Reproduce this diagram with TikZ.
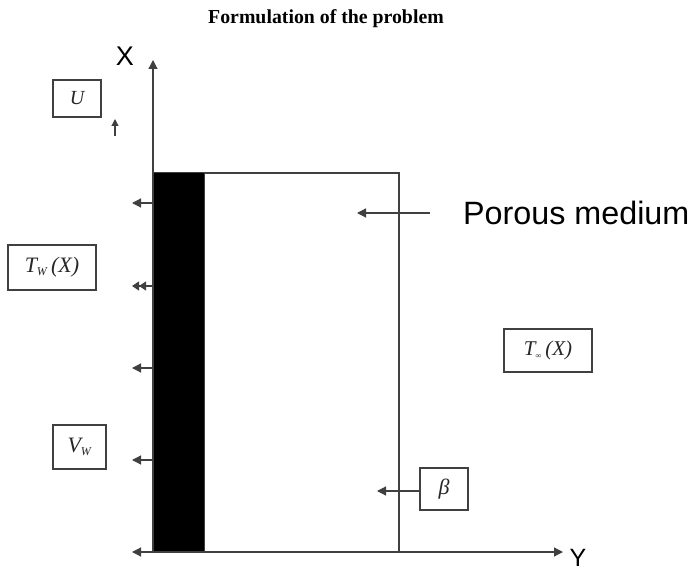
\documentclass[tikz,border=0pt]{standalone}
\usepackage{fontspec}
\setmainfont{Liberation Serif}
\newfontfamily\arialfont{Liberation Sans}
\usetikzlibrary{arrows.meta}
\definecolor{ln}{HTML}{404040}
\tikzset{
  tip/.style={-{Triangle[length=9pt,width=9pt]}},
  box/.style={draw=ln, line width=1.2pt, inner sep=0pt, fill=white},
  ax/.style={draw=ln, line width=1.2pt},
  lbl/.style={font=\fontsize{20}{22}\selectfont\itshape, text=black!85},
}
\begin{document}
\begin{tikzpicture}[x=1pt,y=-1pt]
\useasboundingbox (0,0) rectangle (691,577);
% title
\node[font=\fontsize{19.8}{22}\selectfont\bfseries] (title) at (326,19) {Formulation of the problem};
% porous medium rectangle and wall
\node[draw=ln, line width=1.2pt, minimum width=246pt, minimum height=379pt, inner sep=0pt, fill=white] (pm) at (276,362.5) {};
\node[fill=black, draw=ln, line width=1pt, minimum width=51pt, minimum height=379pt, inner sep=0pt] (wall) at (178.5,362.5) {};
% axes
\coordinate (O) at (153,552);
\coordinate (Xend) at (153,60);
\coordinate (Yend) at (563,552);
\coordinate (Lend) at (132,552);
\draw[ax, tip] (O) -- (Xend);
\draw[ax, {Triangle[length=9pt,width=9pt]}-{Triangle[length=9pt,width=9pt]}] (Lend) -- (Yend);
\node[font=\arialfont\fontsize{27}{28}\selectfont] (X) at (125,56) {X};
\node[font=\arialfont\fontsize{25}{26}\selectfont, inner sep=0pt, anchor=base] (Y) at (578,566) {Y};
% arrows leaving the wall
\coordinate (w1) at (153,203);
\coordinate (w2) at (153,286);
\coordinate (w3) at (153,368);
\coordinate (w4) at (153,460);
\coordinate (a1) at (132,203);
\coordinate (a2) at (132,286);
\coordinate (a3) at (132,368);
\coordinate (a4) at (132,460);
\draw[ax, tip] (w1) -- (a1);
\draw[ax, -{Triangle[length=7pt,width=9pt] Triangle[length=7pt,width=9pt]}] (w2) -- (a2);
\draw[ax, tip] (w3) -- (a3);
\draw[ax, tip] (w4) -- (a4);
% boxes
\node[box, minimum width=48pt, minimum height=37pt, lbl] (U) at (77,98.5) {U};
\coordinate (u0) at (115,136);
\coordinate (u1) at (115,119);
\draw[ax, line width=1.2pt, -{Triangle[length=7pt,width=7pt]}] (u0) -- (u1);
\node[box, minimum width=88pt, minimum height=45pt, lbl, font=\fontsize{22}{24}\selectfont\itshape] (TW) at (52,267.5) {T\textsubscript{\fontsize{12}{13}\selectfont W}\,(X)};
\node[box, minimum width=53pt, minimum height=44pt, lbl, font=\fontsize{22}{24}\selectfont\itshape] (VW) at (79.5,447) {V\textsubscript{\fontsize{12}{13}\selectfont W}};
\node[box, minimum width=88pt, minimum height=43pt, lbl, font=\fontsize{21}{24}\selectfont\itshape] (Tinf) at (548,350.5) {T\textsubscript{\fontsize{8}{9}\selectfont ∞}\,(X)};
\node[box, minimum width=48pt, minimum height=42pt, lbl, font=\fontsize{22}{24}\selectfont\itshape] (beta) at (444,489) {β};
\coordinate (b1) at (377,491);
\draw[ax, tip] (beta.west |- b1) -- (b1);
% porous medium label
\node[font=\arialfont\fontsize{32.3}{34}\selectfont, anchor=west, inner sep=0pt] (pmtext) at (463,213) {Porous medium};
\coordinate (p1) at (430,213);
\coordinate (p2) at (357,213);
\draw[ax, tip] (p1) -- (p2);
\end{tikzpicture}
\end{document}
